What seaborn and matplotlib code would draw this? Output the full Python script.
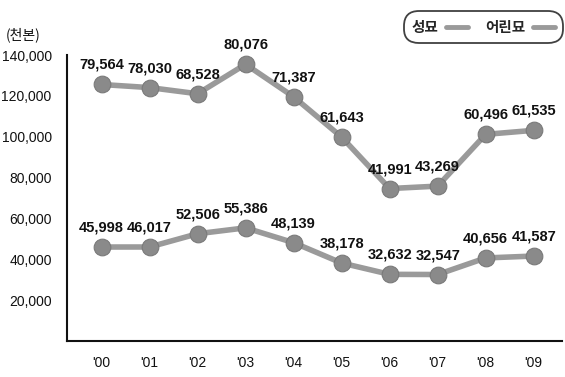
import pandas as pd
import numpy as np
import matplotlib.pyplot as plt
import seaborn as sns
from matplotlib.lines import Line2D

years = ["'00", "'01", "'02", "'03", "'04", "'05", "'06", "'07", "'08", "'09"]
# lower line (성묘)
adult = [45998, 46017, 52506, 55386, 48139, 38178, 32632, 32547, 40656, 41587]
# upper line, stacked on top (어린묘)
seedling = [79564, 78030, 68528, 80076, 71387, 61643, 41991, 43269, 60496, 61535]
yticks = [20000, 40000, 60000, 80000, 100000, 120000, 140000]

df = pd.DataFrame({'x': np.arange(len(years)), 'adult': adult, 'seedling': seedling})
df['total'] = df['adult'] + df['seedling']

sns.set_style('white')
plt.rcParams['font.family'] = ['Liberation Sans', 'Noto Sans CJK KR', 'DejaVu Sans']

fig = plt.figure(figsize=(5.65, 3.77), dpi=100)
ax = fig.add_axes([67 / 565, 36 / 377, 495 / 565, 286 / 377])

line_c = '#9a9a9a'
mark_c = '#8a8a8a'
for col in ['adult', 'total']:
    sns.lineplot(data=df, x='x', y=col, ax=ax, color=line_c, linewidth=4,
                 marker='o', markersize=12, markerfacecolor=mark_c,
                 markeredgecolor='#7a7a7a', markeredgewidth=0.8)

# value labels
for i in range(len(years)):
    ax.annotate(f"{adult[i]:,}", (df['x'][i], df['adult'][i]), xytext=(0, 9),
                textcoords='offset points', ha='center', va='bottom',
                fontsize=10.5, fontweight='bold', color='#111111')
    ax.annotate(f"{seedling[i]:,}", (df['x'][i], df['total'][i]), xytext=(0, 9),
                textcoords='offset points', ha='center', va='bottom',
                fontsize=10.5, fontweight='bold', color='#111111')

ax.set_xlim(-0.72, 9.59)
ax.set_ylim(0, 140000)
ax.set_xticks(df['x'])
ax.set_xticklabels(years)
ax.set_yticks(yticks)
ax.set_yticklabels([f"{v:,}" for v in yticks])
ax.set_xlabel('')
ax.set_ylabel('')
ax.tick_params(axis='both', direction='out', length=7, width=1.2, color='#111111',
               labelsize=10, labelcolor='#111111')
ax.tick_params(axis='x', pad=4)
ax.tick_params(axis='y', pad=4)
ax.spines['top'].set_visible(False)
ax.spines['right'].set_visible(False)
for s in ['left', 'bottom']:
    ax.spines[s].set_linewidth(1.5)
    ax.spines[s].set_color('#111111')

fig.text(6 / 565, 1 - 35 / 377, '(천본)', fontsize=10, ha='left', va='center',
         family=['Noto Sans CJK KR', 'DejaVu Sans'], color='#111111')

handles = [Line2D([], [], color=line_c, lw=3.5), Line2D([], [], color=line_c, lw=3.5)]
leg = fig.legend(handles, ['성묘', '어린묘'], ncol=2, loc='upper right',
                 bbox_to_anchor=(570 / 565, 1 - 4 / 377), frameon=True,
                 prop={'family': ['Noto Sans CJK KR', 'DejaVu Sans'], 'size': 10.5,
                       'weight': 'bold'},
                 handlelength=1.5, handletextpad=0.5, columnspacing=1.2,
                 markerfirst=False, borderpad=0.55, fancybox=True)
frame = leg.get_frame()
frame.set_edgecolor('#111111')
frame.set_linewidth(1.3)
frame.set_boxstyle('round', pad=0.0, rounding_size=1.0)

fig.savefig('out.png', dpi=100)
